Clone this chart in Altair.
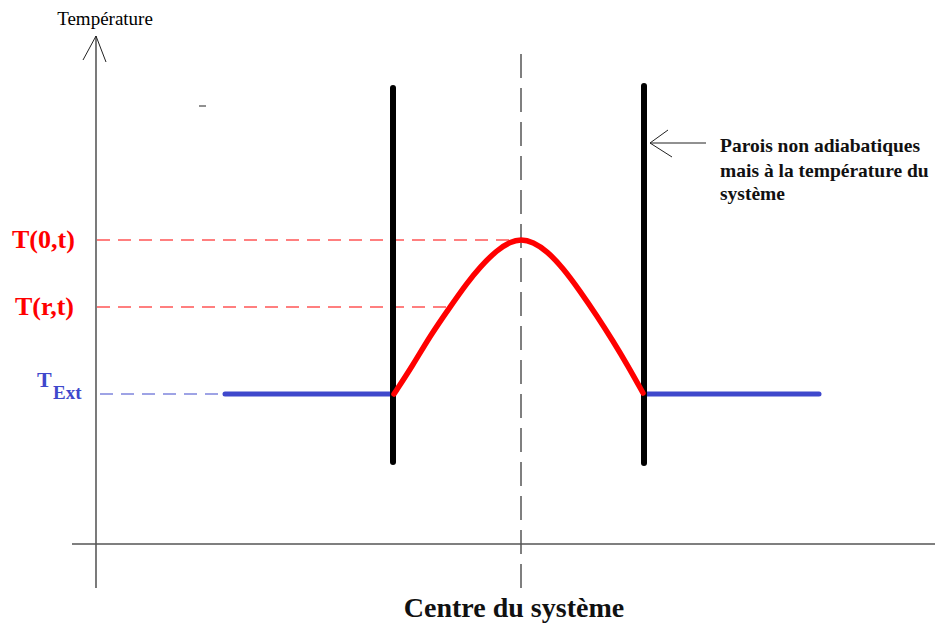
import altair as alt
import pandas as pd

# ---------------- data (schematic coordinates: x = position, t = temperature level) ----------------
# temperature profile (red curve) between the two walls
curve_x = [394, 413, 430, 450, 467, 480, 497, 510, 521, 533, 547, 563, 580, 597, 613, 628, 643]
curve_t = [232, 261, 290, 319, 343, 359, 376, 384, 387, 384, 375, 358, 335, 310, 285, 260, 233]

# exterior temperature (blue) segments
ext_x1 = [225, 644]
ext_x2 = [393, 819]
T_ext = 232
T_zero = 386
T_r = 319

# walls
wall_x = [393, 644]
wall_t1 = [538, 540]
wall_t2 = [164, 163]

# axes
yaxis_x = 96
yaxis_t = [38, 590]
xaxis_t = 82
xaxis_x = [72, 943]
center_x = 521
center_t = [38, 582]

# thin solid segments: y-axis arrowhead, wall arrow, stray dash
seg_x1 = [96, 96, 706, 650, 650, 199]
seg_x2 = [83, 106, 650, 668, 672, 206]
seg_t1 = [590, 590, 483, 483, 483, 520]
seg_t2 = [566, 564, 483, 496, 469, 520]

# dashed guide lines
red_dash_x1 = [97, 97]
red_dash_x2 = [521, 449]
red_dash_t = [T_zero, T_r]
blue_dash_x = [100, 225]

annot_lines = ["Parois non adiabatiques", "mais à la température du", "système"]
annot_t = [474, 449, 426]

RED = "#ff0000"
BLUE = "#3f48cc"
SERIF = "Liberation Serif"

X = alt.Scale(domain=[8, 935], nice=False, zero=False)
Y = alt.Scale(domain=[0, 618], nice=False, zero=False)


def xe(f):
    return alt.X(f, type="quantitative", scale=X, axis=None)


def ye(f):
    return alt.Y(f, type="quantitative", scale=Y, axis=None)


def segs(x1, x2, t1, t2, **mark):
    df = pd.DataFrame({"x": x1, "x2": x2, "t": t1, "t2": t2})
    return alt.Chart(df).mark_rule(**mark).encode(
        x=xe("x"), x2="x2", y=ye("t"), y2="t2"
    )


layers = []

# axes
layers.append(segs([yaxis_x], [yaxis_x], [yaxis_t[0]], [yaxis_t[1]], color="#333", strokeWidth=1.3))
layers.append(segs([xaxis_x[0]], [xaxis_x[1]], [xaxis_t], [xaxis_t], color="#555", strokeWidth=1.5))
layers.append(segs(seg_x1, seg_x2, seg_t1, seg_t2, color="#222", strokeWidth=1))

# center dashed line
layers.append(segs([center_x], [center_x], [center_t[0]], [center_t[1]],
                   color="#555", strokeWidth=1.5, strokeDash=[24, 10]))

# dashed guide lines
layers.append(segs(red_dash_x1, red_dash_x2, red_dash_t, red_dash_t,
                   color=RED, strokeWidth=1.2, strokeDash=[13, 8]))
layers.append(segs([blue_dash_x[0]], [blue_dash_x[1]], [T_ext], [T_ext],
                   color=BLUE, strokeWidth=1.2, strokeDash=[13, 8]))

# exterior temperature
layers.append(segs(ext_x1, ext_x2, [T_ext, T_ext], [T_ext, T_ext],
                   color=BLUE, strokeWidth=5, strokeCap="round"))

# walls
layers.append(segs(wall_x, wall_x, wall_t1, wall_t2, color="black", strokeWidth=6, strokeCap="round"))

# temperature profile
curve_df = pd.DataFrame({"x": curve_x, "t": curve_t})
layers.append(alt.Chart(curve_df).mark_line(
    color=RED, strokeWidth=5.5, interpolate="basis", strokeCap="round", strokeJoin="round"
).encode(x=xe("x"), y=ye("t")))


def txt(texts, xs, ts, **mark):
    df = pd.DataFrame({"label": texts, "x": xs, "t": ts})
    return alt.Chart(df).mark_text(font=SERIF, **mark).encode(
        x=xe("x"), y=ye("t"), text="label:N"
    )


layers.append(txt(["Température"], [105], [601], fontSize=19, align="center",
                  baseline="alphabetic", color="black"))
layers.append(txt(["T(0,t)", "T(r,t)"], [12, 15], [T_zero, T_r], fontSize=26, fontWeight="bold",
                  align="left", baseline="middle", color=RED))
layers.append(txt(["T"], [37], [239], fontSize=22, fontWeight="bold",
                  align="left", baseline="alphabetic", color=BLUE))
layers.append(txt(["Ext"], [53], [227], fontSize=19, fontWeight="bold",
                  align="left", baseline="alphabetic", color=BLUE))
layers.append(txt(annot_lines, [720, 720, 720], annot_t, fontSize=19.5, fontWeight="bold",
                  align="left", baseline="alphabetic", color="#111"))
layers.append(txt(["Centre du système"], [514], [9], fontSize=28, fontWeight="bold",
                  align="center", baseline="alphabetic", color="#111"))

chart = alt.layer(*layers).properties(
    width=927, height=618, padding=0, autosize="none"
).configure_view(strokeWidth=0)

chart.save("out.html", embed_options={"renderer": "svg", "actions": False})
